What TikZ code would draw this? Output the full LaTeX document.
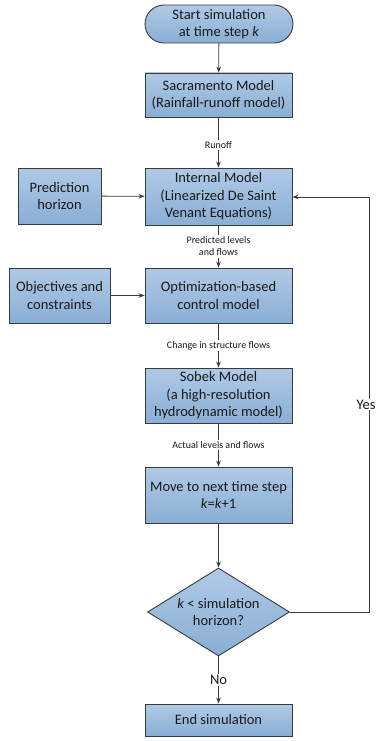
\documentclass[tikz,border=0pt]{standalone}
\usepackage{fontspec}
\setmainfont{Carlito}
\usetikzlibrary{arrows.meta,shapes.geometric}
\definecolor{boxtop}{HTML}{AFCAE6}
\definecolor{boxbot}{HTML}{8AAED5}
\definecolor{edge}{HTML}{3A3A3A}
\definecolor{txt}{HTML}{1A1A1A}
\tikzset{
  box/.style={draw=edge, line width=0.9pt, top color=boxtop, bottom color=boxbot,
    align=center, font=\fontsize{14.5}{17.5}\selectfont, text=txt, inner sep=2pt},
  mainbox/.style={box, minimum width=147, minimum height=#1},
  conn/.style={draw=edge, line width=0.8pt, -{Stealth[length=6pt,width=4.5pt]}},
  lbl/.style={fill=white, font=\fontsize{10}{12}\selectfont, text=txt, align=center, inner sep=1.5pt},
}
\begin{document}
\begin{tikzpicture}[x=1pt,y=-1pt]
\useasboundingbox (0,0) rectangle (378,741);
\node[box, minimum width=148, minimum height=38, rounded corners=19] (start) at (219,24) {Start simulation\\at time step \textit{k}};
\node[mainbox=44] (sac) at (218.5,95) {Sacramento Model\\(Rainfall-runoff model)};
\node[mainbox=57] (int) at (218.5,196.5) {Internal Model\\(Linearized De Saint\\Venant Equations)};
\node[box, minimum width=83, minimum height=56] (pred) at (59.5,196) {Prediction\\horizon};
\node[mainbox=55] (opt) at (218.5,295.5) {Optimization-based\\control model};
\node[box, minimum width=101, minimum height=55] (obj) at (59.5,295.5) {Objectives and\\constraints};
\node[mainbox=55] (sob) at (218.5,395.5) {Sobek Model\\(a high-resolution\\hydrodynamic model)};
\node[mainbox=56] (move) at (218.5,495) {Move to next time step\\\textit{k}=\textit{k}+1};
\node[box, shape=diamond, aspect=1.61, inner sep=0pt, minimum width=142, minimum height=88] (dec) at (218.5,612) {\textit{k} < simulation\\horizon?};
\node[mainbox=32] (end) at (218.5,720) {End simulation};
\coordinate (cr) at (369,612);
\coordinate (ct) at (369,197);

\draw[conn] (start) -- (sac);
\draw[conn] (sac) -- node[lbl, pos=0.55] {Runoff} (int);
\draw[conn] (pred) -- (int);
\draw[conn] (int) -- node[lbl] {Predicted levels\\and flows} (opt);
\draw[conn] (obj) -- (opt);
\draw[conn] (opt) -- node[lbl] {Change in structure flows} (sob);
\draw[conn] (sob) -- node[lbl] {Actual levels and flows} (move);
\draw[conn] (move) -- (dec);
\draw[conn] (dec) -- node[lbl, font=\fontsize{14.5}{17}\selectfont] {No} (end);
\draw[conn] (dec.east) -- (cr) -- node[lbl, font=\fontsize{14.5}{17}\selectfont, pos=0.5, xshift=-3pt, inner sep=1pt] {Yes} (ct) -- (int.east |- ct);
\end{tikzpicture}
\end{document}
